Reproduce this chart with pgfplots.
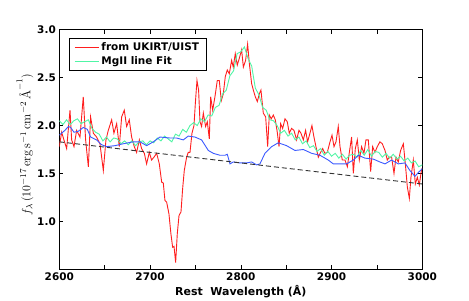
\documentclass[border=0pt]{standalone}
\usepackage{fontspec}
\setsansfont{DejaVu Sans}
\newfontfamily\dvb{DejaVu Sans Bold}
\renewcommand{\familydefault}{\sfdefault}
\usepackage{pgfplots}
\pgfplotsset{compat=1.18}
\definecolor{specred}{RGB}{255,30,30}
\definecolor{fitgreen}{RGB}{80,245,165}
\definecolor{contblue}{RGB}{60,90,255}
\begin{document}
\begin{tikzpicture}
\begin{axis}[name=ax, at={(0,0)}, anchor=south west, scale only axis,
  width=363bp, height=239.6bp,
  xmin=2600, xmax=3000, ymin=0.5, ymax=3.0,
  xtick={2600,2700,...,3000}, minor xtick={2650,2750,2850,2950},
  ytick={1.0,1.5,2.0,2.5,3.0},
  yticklabel style={/pgf/number format/fixed,/pgf/number format/fixed zerofill,/pgf/number format/precision=1},
  xticklabel style={/pgf/number format/1000 sep={}},
  /pgf/number format/assume math mode=true,
  tick label style={font=\dvb\fontsize{10.5}{12}\selectfont},
  major tick length=4bp, minor tick length=4bp,
  tick style={black, line width=0.5bp},
  axis line style={line width=0.8bp},
  xlabel={Rest\ \ Wavelength (Å)},
  ylabel={$f_\lambda\,(10^{-17}\,\mathrm{erg\,s^{-1}\,cm^{-2}}\,\mbox{\rmfamily Å}^{-1})$},
  xlabel style={font=\dvb\fontsize{11}{13}\selectfont, at={(axis description cs:0.5,-0.0947)}, anchor=center},
  ylabel style={font=\fontsize{12.5}{14}\selectfont, at={(axis description cs:-0.0945,0.52)}, anchor=center},
  legend style={at={(0.0267,0.965)}, anchor=north west, draw=black, line width=0.8bp,
    font=\dvb\fontsize{10.5}{12}\selectfont, inner xsep=5bp, inner ysep=2.5bp},
  legend image code/.code={\draw[#1] (0bp,0bp) -- (17bp,0bp); \path (0bp,0bp) -- (24bp,0bp);},
  legend cell align=left,
]
\addlegendimage{color=specred, line width=1.1bp}
\addlegendentry{from UKIRT/UIST}
\addlegendimage{color=fitgreen, line width=1.1bp}
\addlegendentry{MgII line Fit}
\addplot[specred, line width=0.9bp, forget plot] coordinates {
(2600,1.78) (2602.6,1.93) (2605.1,1.85) (2608.1,1.76) (2611.8,2.16) (2613.6,1.85)
(2616.2,1.78) (2619.1,1.95) (2622.8,1.88) (2626.4,2.30) (2629.0,1.85) (2632.0,1.57)
(2634.5,2.09) (2637.5,1.92) (2641.1,1.88) (2644.8,1.81) (2648.5,1.53) (2651.4,1.85)
(2654.0,1.95) (2657.7,2.06) (2660.2,1.92) (2663.2,2.02) (2666.1,1.78) (2668.7,2.09)
(2671.6,2.16) (2674.2,1.99) (2677.1,2.06) (2679.7,1.88) (2682.6,1.78) (2685.2,1.72)
(2688.2,1.85) (2690.7,1.76) (2693.7,1.71) (2696.2,1.60) (2699.2,1.72) (2701.7,1.64)
(2704.3,1.67) (2707.3,1.71) (2710.2,1.60) (2712.8,1.41) (2714.6,1.40) (2716.4,1.22)
(2718.3,1.20) (2720.8,1.08) (2723.0,0.87) (2724.9,0.73) (2726.4,0.74) (2728.2,0.57)
(2730.0,0.87) (2731.9,1.06) (2734.1,1.10) (2735.9,1.34) (2737.7,1.53) (2740.3,1.67)
(2742.1,1.72) (2744.0,1.72) (2746.2,1.92) (2748.4,2.00) (2749.9,2.23) (2751.7,2.47)
(2753.5,2.37) (2755.0,2.04) (2756.8,1.99) (2758.7,2.13) (2761.2,1.99) (2763.1,2.04)
(2765.3,1.86) (2766.8,2.30) (2769.0,2.16) (2771.5,2.30) (2774.1,2.47) (2776.3,2.47)
(2778.5,2.26) (2780.7,2.33) (2782.9,2.51) (2785.1,2.58) (2787.3,2.54) (2789.9,2.68)
(2791.7,2.61) (2793.9,2.75) (2796.1,2.63) (2798.3,2.70) (2800.9,2.79) (2802.8,2.61)
(2805.3,2.68) (2807.5,2.85) (2809.4,2.65) (2811.9,2.44) (2813.8,2.37) (2816.0,2.30)
(2818.2,2.25) (2820.4,2.33) (2822.2,2.37) (2824.8,2.13) (2827.4,2.09) (2829.6,1.78)
(2831.4,2.11) (2833.6,2.07) (2835.8,2.11) (2838.0,2.06) (2840.2,1.93) (2842.1,1.78)
(2843.9,2.02) (2846.1,1.97) (2848.7,2.07) (2851.2,2.04) (2853.4,1.92) (2856.0,1.97)
(2858.6,1.95) (2861.5,1.85) (2864.1,1.95) (2866.3,1.92) (2868.9,1.85) (2871.4,1.95)
(2873.6,1.83) (2876.2,1.92) (2878.4,2.00) (2880.6,1.88) (2882.8,1.78) (2885.4,1.67)
(2888.0,1.72) (2890.2,1.76) (2892.7,1.71) (2895.3,1.72) (2898.3,1.83) (2900.5,1.90)
(2902.7,1.78) (2904.9,1.83) (2907.4,1.99) (2909.3,1.78) (2911.8,1.64) (2914.8,1.64)
(2917.4,1.57) (2919.6,1.72) (2922.1,1.88) (2924.0,1.50) (2926.2,1.76) (2928.4,1.85)
(2930.6,1.64) (2933.1,1.78) (2935.7,1.71) (2937.9,1.85) (2940.5,1.85) (2943.1,1.52)
(2945.3,1.78) (2947.8,1.72) (2950.4,1.78) (2953.3,1.83) (2955.9,1.81) (2958.9,1.74)
(2961.4,1.64) (2963.6,1.67) (2966.2,1.67) (2968.8,1.50) (2971.0,1.67) (2973.5,1.62)
(2976.1,1.74) (2979.1,1.81) (2981.6,1.57) (2983.5,1.36) (2985.7,1.24) (2987.5,1.46)
(2990.1,1.64) (2992.3,1.39) (2994.5,1.46) (2996.7,1.38) (2999.3,1.55)
};
\addplot[fitgreen, line width=0.9bp, forget plot] coordinates {
(2600,2.05) (2604,2.01) (2608,2.06) (2612,2.01) (2616,2.05) (2620,2.07) (2624,2.02)
(2628,2.04) (2632,2.06) (2636,1.97) (2640,1.93) (2644,1.91) (2648,1.84) (2652,1.88)
(2656,1.83) (2660,1.87) (2664,1.86) (2668,1.81) (2672,1.84) (2676,1.80) (2680,1.84)
(2684,1.79) (2688,1.83) (2692,1.84) (2696,1.80) (2700,1.84) (2704,1.82) (2708,1.87)
(2712,1.84) (2716,1.89) (2720,1.86) (2724,1.83) (2728,1.91) (2732,1.89) (2736,1.96)
(2740,1.93) (2744,2.00) (2748,2.03) (2752,2.00) (2756,2.07) (2760,2.04) (2764,2.11)
(2768,2.10) (2772,2.19) (2776,2.21) (2780,2.33) (2784,2.37) (2788,2.52) (2792,2.57)
(2796,2.75) (2800,2.77) (2804,2.82) (2808,2.70) (2812,2.62) (2816,2.39) (2820,2.32)
(2824,2.19) (2828,2.16) (2832,2.06) (2836,2.05) (2840,2.00) (2844,1.92) (2848,1.95)
(2852,1.89) (2856,1.92) (2860,1.85) (2864,1.88) (2868,1.81) (2872,1.84) (2876,1.77)
(2880,1.79) (2884,1.73) (2888,1.76) (2892,1.69) (2896,1.73) (2900,1.68) (2904,1.71)
(2908,1.66) (2912,1.70) (2916,1.65) (2920,1.69) (2924,1.70) (2928,1.67) (2932,1.74)
(2936,1.69) (2940,1.75) (2944,1.68) (2948,1.73) (2952,1.72) (2956,1.67) (2960,1.71)
(2964,1.66) (2968,1.70) (2972,1.65) (2976,1.68) (2980,1.63) (2984,1.66) (2988,1.61)
(2992,1.63) (2996,1.57) (3000,1.59)
};
\addplot[contblue, line width=0.9bp, forget plot] coordinates {
(2600,1.90) (2606.2,1.95) (2610,1.99) (2612.5,1.98) (2616.2,1.93) (2620.9,1.94)
(2626.4,1.98) (2630.9,1.96) (2634.5,1.88) (2641.1,1.85) (2646.6,1.80) (2652.2,1.78)
(2661.3,1.79) (2670.5,1.81) (2681.5,1.83) (2688.9,1.83) (2696.2,1.79) (2703.6,1.83)
(2710.9,1.88) (2721.9,1.87) (2729.3,1.87) (2736.6,1.85) (2742.1,1.89) (2749.5,1.88)
(2756.8,1.85) (2764.2,1.74) (2769.7,1.71) (2777.0,1.69) (2782.6,1.69) (2785.1,1.70)
(2788.1,1.60) (2791.7,1.62) (2799.1,1.61) (2806.4,1.61) (2811.9,1.62) (2817.4,1.59)
(2821.1,1.60) (2826.6,1.71) (2834.0,1.78) (2841.3,1.82) (2850.5,1.79) (2859.7,1.74)
(2868.9,1.75) (2878.1,1.71) (2887.2,1.69) (2896.4,1.64) (2901.9,1.60) (2916.6,1.60)
(2924.0,1.64) (2929.5,1.69) (2936.8,1.66) (2946.0,1.65) (2953.3,1.62) (2958.9,1.60)
(2966.2,1.64) (2973.5,1.60) (2980.9,1.61) (2986.4,1.53) (2991.9,1.47) (2995.6,1.51)
(3000,1.55)
};
\addplot[black!80, dashed, dash pattern=on 5bp off 3bp, line width=0.9bp, forget plot] coordinates {
(2600,1.83) (3000,1.39)
};
\end{axis}
\pgfresetboundingbox
\path ([shift={(-59.3bp,-30.7bp)}]ax.south west) rectangle ([shift={(46.7bp,29.7bp)}]ax.north east);
\end{tikzpicture}
\end{document}
